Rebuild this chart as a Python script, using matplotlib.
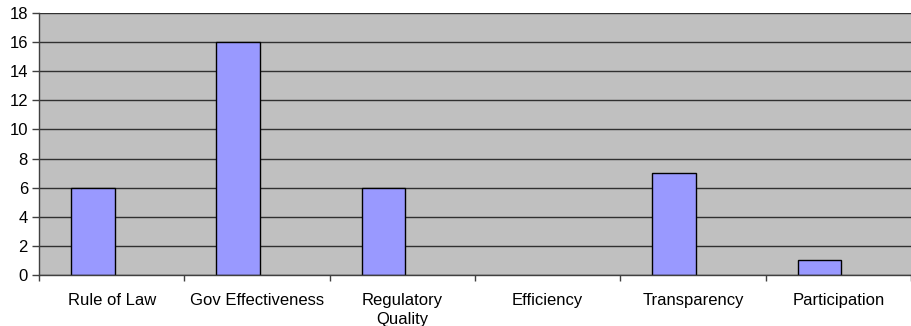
import matplotlib
matplotlib.use("Agg")
import matplotlib.pyplot as plt
import numpy as np

categories = ["Rule of Law", "Gov Effectiveness", "Regulatory\nQuality",
              "Efficiency", "Transparency", "Participation"]
counts = [6, 16, 6, 0, 7, 1]
y_ticks = list(range(0, 19, 2))

plt.rcParams["font.family"] = ["Liberation Sans", "DejaVu Sans"]

fig = plt.figure(figsize=(9.11, 3.26), dpi=100)
fig.patch.set_facecolor("white")
ax = fig.add_axes([39 / 911, 51 / 326, 872 / 911, 262 / 326])
ax.set_facecolor("#C0C0C0")

x = np.arange(len(categories))
# empty categories get no outline so no flat line is drawn on the axis
edge_widths = [1.0 if v > 0 else 0.0 for v in counts]
ax.bar(x - 0.13, counts, width=0.3, color="#9999FF", edgecolor="black",
       linewidth=edge_widths, zorder=3)

ax.set_xlim(-0.5, len(categories) - 0.5)
ax.set_ylim(0, 18)
ax.set_yticks(y_ticks)
ax.yaxis.grid(True, color="#303030", linewidth=1.0, zorder=1)
ax.set_axisbelow(True)

ax.set_xticks(x)
ax.set_xticklabels(categories, fontsize=12, linespacing=1.35)
ax.set_xticks(np.arange(-0.5, len(categories) + 0.5, 1), minor=True)
ax.tick_params(axis="x", which="major", length=0, pad=13)
ax.tick_params(axis="x", which="minor", length=4, width=1, color="#404040")
ax.tick_params(axis="y", length=5, width=1, color="#404040", labelsize=12, pad=3)

for side in ["top", "right"]:
    ax.spines[side].set_visible(False)
for side in ["left", "bottom"]:
    ax.spines[side].set_color("#404040")
    ax.spines[side].set_linewidth(1.0)
    ax.spines[side].set_zorder(4)

fig.savefig("out.png", dpi=100)
